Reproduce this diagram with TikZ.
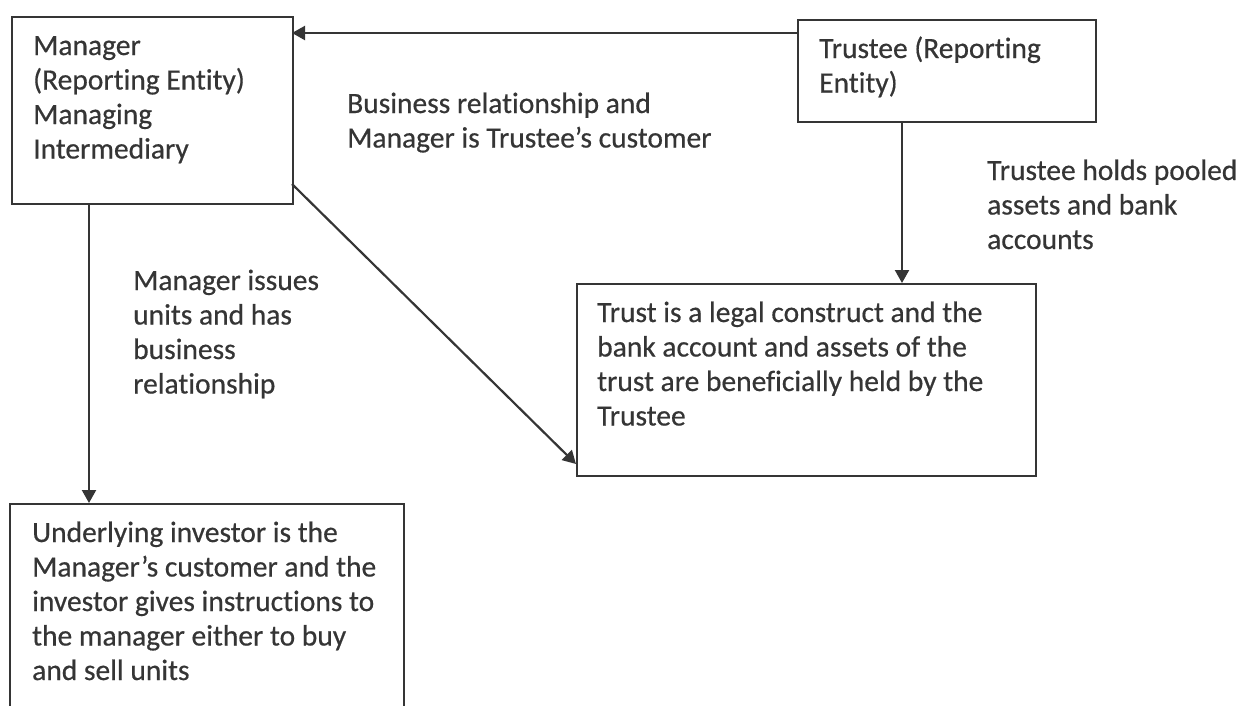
\documentclass[tikz,border=0pt]{standalone}
\usepackage{fontspec}
\setmainfont{Carlito}[Ligatures=NoCommon, FakeBold=0.5]
\usetikzlibrary{arrows.meta}
\definecolor{ink}{HTML}{353535}
\tikzset{
  box/.style={draw=ink, line width=2.2pt, inner sep=0pt, anchor=north west},
  txt/.style={text=ink, align=left, inner sep=0pt, anchor=base west,
              font=\fontsize{29.5}{34.5}\selectfont},
  conn/.style={draw=ink, line width=2.2pt, -{Triangle[length=13pt,width=14pt]}}
}
\begin{document}
\begin{tikzpicture}[x=1pt,y=-1pt]
\useasboundingbox (0,0) rectangle (1237,705);
\clip (0,0) rectangle (1237,705);
% boxes
\node[box, minimum width=281pt, minimum height=187pt] (mgr) at (11,16) {};
\node[box, minimum width=298pt, minimum height=102pt] (tee) at (797,19) {};
\node[box, minimum width=459pt, minimum height=192pt] (trust) at (576,283) {};
\node[box, minimum width=394pt, minimum height=240pt] (inv) at (9,503) {};
% box texts (anchor = baseline of last line)
\node[txt] (mgrt) at (33,158.5) {Manager\\(Reporting Entity)\\Managing\\Intermediary};
\node[txt] (teet) at (819,92.5) {Trustee (Reporting\\Entity)};
\node[txt] (trustt) at (597,425.5) {Trust is a legal construct and the\\bank account and assets of the\\trust are beneficially held by the\\Trustee};
\node[txt] (invt) at (32,680) {Underlying investor is the\\Manager’s customer and the\\investor gives instructions to\\the manager either to buy\\and sell units};
% labels
\node[txt] (l1) at (347,147.5) {Business relationship and\\Manager is Trustee’s customer};
\node[txt] (l2) at (987,249) {Trustee holds pooled\\assets and bank\\accounts};
\node[txt] (l3) at (133,393.5) {Manager issues\\units and has\\business\\relationship};
% connectors
\coordinate (a1s) at (797,33);
\coordinate (a1e) at (292,33);
\draw[conn] (a1s) -- (a1e);
\coordinate (a2s) at (902,121);
\coordinate (a2e) at (902,283);
\draw[conn] (a2s) -- (a2e);
\coordinate (a3s) at (89,203);
\coordinate (a3e) at (89,503);
\draw[conn] (a3s) -- (a3e);
\coordinate (a4s) at (292,184);
\coordinate (a4e) at (576,464);
\draw[conn] (a4s) -- (a4e);
\end{tikzpicture}
\end{document}
